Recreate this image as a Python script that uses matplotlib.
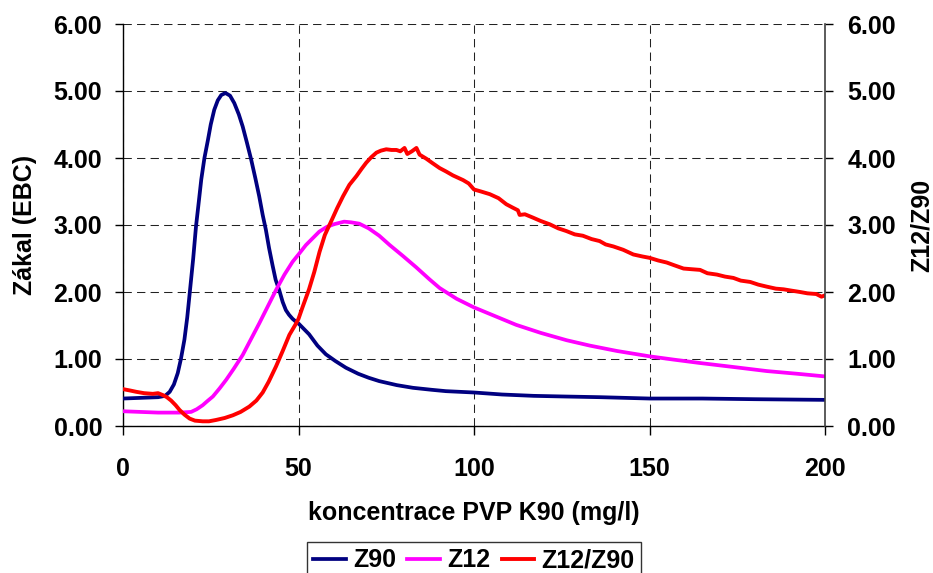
import matplotlib
matplotlib.use("Agg")
import matplotlib.pyplot as plt
from matplotlib.ticker import FormatStrFormatter

matplotlib.rcParams["font.family"] = ["Liberation Sans", "DejaVu Sans"]
matplotlib.rcParams["font.weight"] = "bold"
matplotlib.rcParams["axes.labelweight"] = "bold"
matplotlib.rcParams["font.size"] = 18

# Z90 (left axis)
z90_x = [0, 5, 10, 12, 13.3, 14.5, 15.6, 16.5, 17.5, 18.3, 19.0, 20.0, 20.8, 21.6,
         22.3, 23.2, 24.2, 25.0, 26.0, 27.0, 28.0, 29.2, 30.5, 31.7, 33.0, 34.1,
         35.3, 36.5, 37.7, 38.8, 39.8, 40.7, 41.6, 42.6, 43.5, 44.5, 45.5, 46.4,
         47.3, 48.3, 49.2, 50, 51.5, 53, 55.4, 57.8, 60.5, 63.5, 67, 70, 73, 78,
         82.6, 88, 92, 100, 108, 117, 126, 136, 150, 165, 180, 200]
z90_y = [0.41, 0.42, 0.43, 0.45, 0.51, 0.62, 0.79, 1.00, 1.29, 1.62, 1.98, 2.50,
         2.98, 3.35, 3.68, 4.00, 4.27, 4.50, 4.72, 4.86, 4.94, 4.97, 4.93, 4.82,
         4.65, 4.47, 4.23, 3.98, 3.70, 3.43, 3.15, 2.93, 2.66, 2.40, 2.18, 2.03,
         1.85, 1.73, 1.66, 1.60, 1.56, 1.53, 1.45, 1.37, 1.20, 1.07, 0.97, 0.87,
         0.78, 0.72, 0.67, 0.61, 0.57, 0.54, 0.52, 0.50, 0.47, 0.45, 0.44, 0.43,
         0.41, 0.41, 0.40, 0.39]

# Z12 (left axis)
z12_x = [0, 5, 10, 16, 19.4, 21, 22.7, 24, 25.6, 27.5, 29.4, 31.5, 34.1, 36.5,
         38.8, 41.2, 43.6, 46, 48.3, 50, 52.1, 54, 55.9, 58, 60, 63, 65, 67.3,
         70, 73, 76, 79.7, 83.5, 87.3, 90.2, 95, 100, 106, 112, 119, 126.4, 133,
         140.7, 150, 157, 164.4, 174, 183.4, 192, 200]
z12_y = [0.22, 0.21, 0.20, 0.20, 0.21, 0.25, 0.31, 0.37, 0.44, 0.56, 0.69, 0.85,
         1.06, 1.30, 1.53, 1.78, 2.03, 2.26, 2.45, 2.56, 2.70, 2.80, 2.90, 2.97,
         3.01, 3.05, 3.04, 3.02, 2.95, 2.84, 2.70, 2.54, 2.37, 2.19, 2.06, 1.90,
         1.77, 1.64, 1.51, 1.39, 1.28, 1.20, 1.12, 1.04, 0.99, 0.94, 0.88, 0.82,
         0.78, 0.74]

# Z12/Z90 (right axis)
ratio_x = [0, 2, 3.8, 6, 8.5, 10, 11.4, 12.5, 13.7, 15, 16.1, 17.5, 19, 20.5,
           22.7, 24.5, 26.5, 29, 31.3, 33.5, 36, 38, 39.8, 41.5, 43.6, 45.5,
           47.4, 49.2, 50, 51.2, 53, 54.5, 56, 57.5, 59.7, 61, 62.7, 64.5, 66.5,
           68, 69.3, 70.7, 72.2, 73.5, 75, 76.5, 77.9, 79, 80.2, 81, 82.3, 83.6,
           84.5, 86.4, 88, 90.2, 92, 94, 96.9, 98.5, 100, 102, 104.5, 107, 109.2,
           111, 112.5, 113, 114.5, 116.8, 119, 121.6, 124, 126.3, 128.7, 131,
           133.5, 135.8, 137.5, 139.7, 142.5, 145.4, 148, 150, 152.5, 154.9, 157,
           159.7, 162, 164.4, 166.5, 169.2, 171.5, 173.9, 176, 178.7, 181, 183.4,
           186, 188.2, 190.5, 192.9, 195, 197.5, 199, 200]
ratio_y = [0.55, 0.53, 0.51, 0.49, 0.48, 0.49, 0.46, 0.43, 0.38, 0.31, 0.24, 0.17,
           0.11, 0.08, 0.07, 0.07, 0.09, 0.12, 0.16, 0.21, 0.29, 0.38, 0.50, 0.66,
           0.89, 1.12, 1.36, 1.52, 1.60, 1.78, 2.04, 2.30, 2.60, 2.85, 3.10, 3.25,
           3.43, 3.60, 3.73, 3.84, 3.93, 4.01, 4.08, 4.11, 4.13, 4.12, 4.12, 4.10,
           4.15, 4.06, 4.10, 4.15, 4.05, 3.99, 3.93, 3.85, 3.80, 3.74, 3.67, 3.62,
           3.53, 3.50, 3.46, 3.40, 3.31, 3.26, 3.22, 3.15, 3.16, 3.11, 3.06, 3.01,
           2.95, 2.91, 2.86, 2.84, 2.79, 2.76, 2.71, 2.68, 2.63, 2.56, 2.53, 2.51,
           2.47, 2.44, 2.40, 2.35, 2.34, 2.33, 2.28, 2.26, 2.23, 2.21, 2.17, 2.15,
           2.11, 2.08, 2.05, 2.04, 2.02, 2.00, 1.98, 1.97, 1.93, 1.95]

x_ticks = [0, 50, 100, 150, 200]
y_ticks = [0, 1, 2, 3, 4, 5, 6]

fig = plt.figure(figsize=(9.33, 5.73), dpi=100)
ax = fig.add_axes([123 / 933, 1 - 426 / 573, 702 / 933, 402 / 573])

l1, = ax.plot(z90_x, z90_y, color="#000080", lw=2.7, label="Z90", zorder=3)
l2, = ax.plot(z12_x, z12_y, color="#FF00FF", lw=2.7, label="Z12", zorder=4)

ax.set_xlim(0, 200)
ax.set_ylim(0, 6)
ax.set_xticks(x_ticks)
ax.set_yticks(y_ticks)
ax.yaxis.set_major_formatter(FormatStrFormatter("%.2f"))
ax.grid(True, color="#222222", lw=0.75, linestyle=(0, (8, 5)))
ax.set_axisbelow(True)
ax.spines["top"].set_visible(False)
ax.spines["right"].set_visible(False)
ax.spines["left"].set_linewidth(1.0)
ax.spines["bottom"].set_linewidth(1.0)
ax.tick_params(axis="y", direction="out", length=6, width=1, pad=9)
ax.tick_params(axis="x", direction="out", length=6.5, width=1, pad=16)
ax.set_xlabel("koncentrace PVP K90 (mg/l)", labelpad=14)
ax.set_ylabel("Zákal (EBC)", labelpad=12)

ax2 = ax.twinx()
l3, = ax2.plot(ratio_x, ratio_y, color="#FF0000", lw=2.8, label="Z12/Z90")
ax2.set_ylim(0, 6)
ax2.set_yticks(y_ticks)
ax2.yaxis.set_major_formatter(FormatStrFormatter("%.2f"))
ax2.spines["top"].set_visible(False)
ax2.spines["left"].set_visible(False)
ax2.spines["bottom"].set_visible(False)
ax2.spines["right"].set_color("#404040")
ax2.spines["right"].set_linewidth(1.2)
ax2.tick_params(axis="y", direction="out", length=6, width=1, pad=10)
ax2.set_ylabel("Z12/Z90", rotation=90, labelpad=10)

leg = fig.legend([l1, l2, l3], ["Z90", "Z12", "Z12/Z90"], loc="upper center",
                 bbox_to_anchor=(474 / 933, 1 - 542 / 573), ncol=3,
                 frameon=True, fancybox=False, edgecolor="black",
                 handlelength=1.3, handletextpad=0.3, columnspacing=0.45,
                 borderpad=0.25, borderaxespad=0)
leg.get_frame().set_linewidth(1.0)

fig.savefig("out.png", dpi=100)
